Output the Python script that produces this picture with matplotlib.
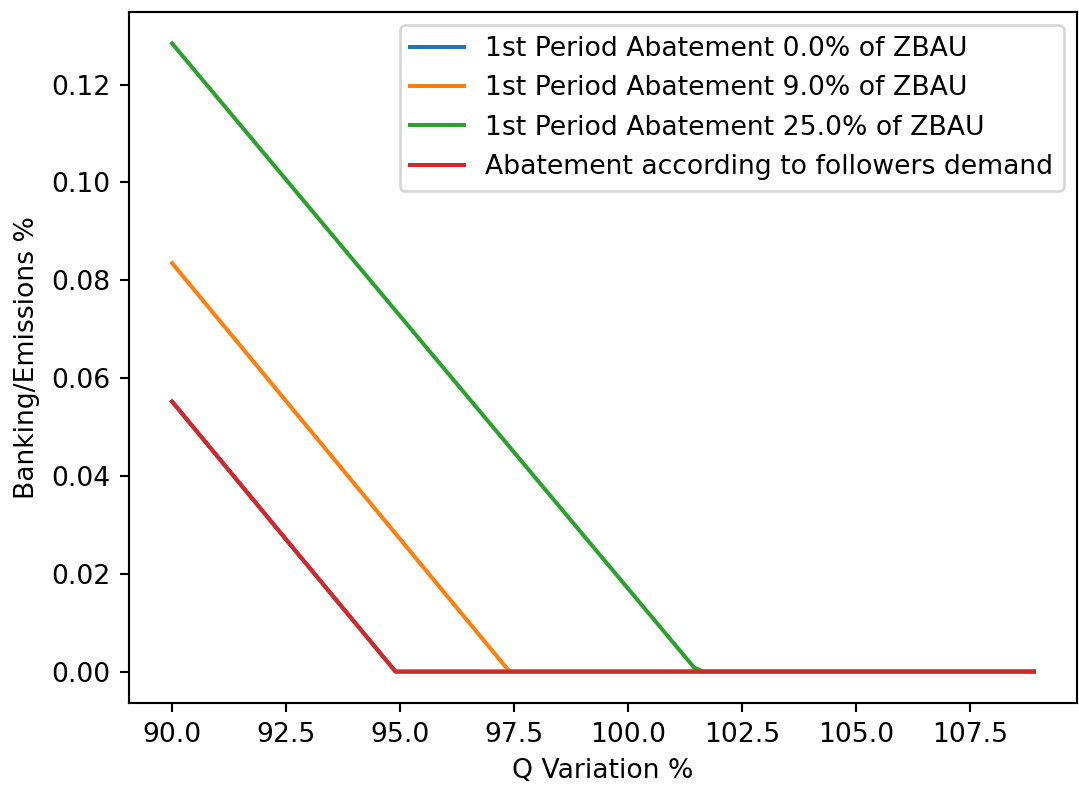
import matplotlib
matplotlib.use("Agg")
import matplotlib.pyplot as plt

# vertices of each banking curve (Q variation %, banking/emissions)
q_zero = [90.0, 92.5, 94.9, 108.9]
bank_zero = [0.0552, 0.0270, 0.0, 0.0]

q_nine = [90.0, 97.4, 108.9]
bank_nine = [0.0835, 0.0, 0.0]

q_twentyfive = [90.0, 101.45, 101.65, 108.9]
bank_twentyfive = [0.1284, 0.0008, 0.0, 0.0]

q_followers = [90.0, 92.5, 94.9, 108.9]
bank_followers = [0.0552, 0.0270, 0.0, 0.0]

labels = ["1st Period Abatement 0.0% of ZBAU",
          "1st Period Abatement 9.0% of ZBAU",
          "1st Period Abatement 25.0% of ZBAU",
          "Abatement according to followers demand"]

dpi = 192
fig = plt.figure(figsize=(1079 / dpi, 787 / dpi), dpi=dpi)
ax = fig.add_axes([129 / 1079, 84 / 787, 948 / 1079, 691 / 787])

ax.plot(q_zero, bank_zero, label=labels[0])
ax.plot(q_nine, bank_nine, label=labels[1])
ax.plot(q_twentyfive, bank_twentyfive, label=labels[2])
ax.plot(q_followers, bank_followers, label=labels[3])

ax.set_xlabel("Q Variation %")
ax.set_ylabel("Banking/Emissions %")
ax.legend(loc="upper right")

fig.savefig("out.png", dpi=dpi)
